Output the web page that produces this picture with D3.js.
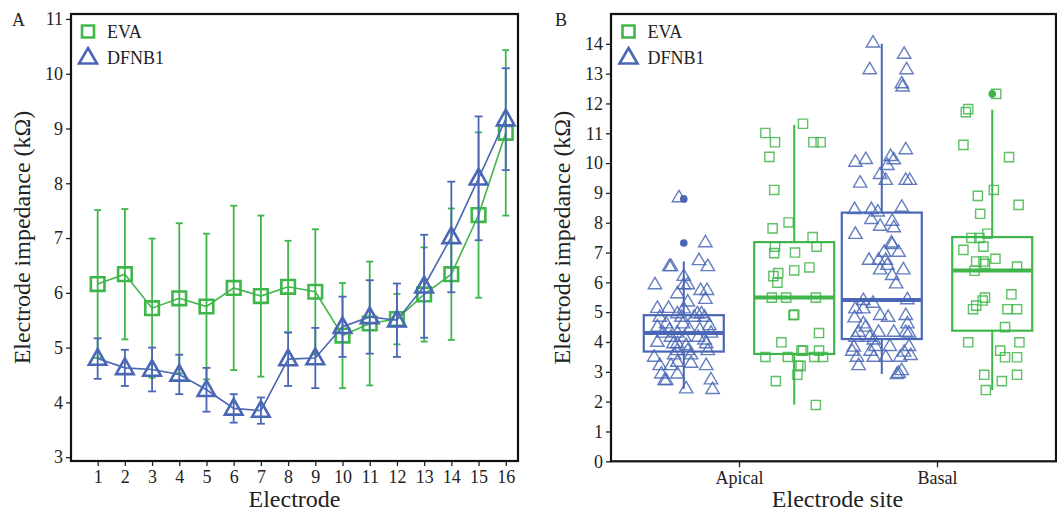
<!DOCTYPE html>
<html><head><meta charset="utf-8">
<script src="https://cdn.jsdelivr.net/npm/d3@7"></script>
<style>body{margin:0;background:#fff}svg{display:block}text{font-family:"Liberation Serif","DejaVu Serif",serif;fill:#222}</style>
</head><body><svg id="c" width="1057" height="512"></svg>
<script>
// ---------- Panel A data ----------
const electrodes = [1,2,3,4,5,6,7,8,9,10,11,12,13,14,15,16];
const evaMean  = [6.16,6.34,5.72,5.90,5.75,6.09,5.94,6.11,6.02,5.22,5.44,5.52,5.97,6.34,7.42,8.92];
const evaSD    = [1.35,1.19,1.27,1.37,1.33,1.50,1.47,0.84,1.14,0.96,1.13,0.46,0.86,1.20,1.51,1.51];
const dfnbMean = [4.80,4.63,4.60,4.51,4.23,3.89,3.85,4.79,4.81,5.38,5.56,5.50,6.12,7.02,8.09,9.17];
const dfnbSD   = [0.37,0.33,0.40,0.36,0.40,0.26,0.24,0.49,0.55,0.55,0.67,0.67,0.94,1.01,1.13,0.93];
const yTicksA = [3,4,5,6,7,8,9,10,11];

// ---------- Panel B data ----------
const sites = ["Apical","Basal"];
const groups = ["DFNB1","EVA"];
const yTicksB = [0,1,2,3,4,5,6,7,8,9,10,11,12,13,14];
// box stats: [whiskerLow, q1, median, q3, whiskerHigh]
const boxApicalDFNB1 = [2.43,3.68,4.30,4.90,6.70];
const boxApicalEVA   = [1.90,3.60,5.49,7.35,11.28];
const boxBasalDFNB1  = [2.93,4.10,5.41,8.34,14.00];
const boxBasalEVA    = [2.39,4.38,6.40,7.52,11.79];
const outApicalDFNB1 = [8.80,7.32];
const outApicalEVA   = [];
const outBasalDFNB1  = [];
const outBasalEVA    = [12.32];
// points: [jitter (fraction of box width), value]
const ptsApicalDFNB1 = [[-0.06,8.86],[0.27,7.35],[0.19,6.75],[0.30,6.55],[-0.18,6.55],[-0.16,6.55],[0,6.22],[-0.36,5.94],[0,5.94],[0.05,5.94],[0.21,5.75],[0.29,5.75],[-0.08,5.64],[0.27,5.45],[0.05,5.36],[-0.33,5.15],[-0.19,5.15],[0,5.13],[-0.08,4.97],[0.17,4.97],[0.22,4.97],[-0.30,4.85],[-0.03,4.85],[0.13,4.85],[0.26,4.85],[-0.22,4.63],[-0.01,4.63],[0.32,4.57],[-0.33,4.52],[-0.18,4.41],[0.07,4.43],[0.20,4.43],[-0.26,4.32],[-0.08,4.32],[0.34,4.32],[-0.16,4.18],[0.01,4.18],[0.18,4.18],[0.26,4.09],[-0.33,4.01],[-0.13,3.96],[-0.08,3.96],[0.03,3.90],[0.28,3.96],[-0.08,3.73],[0.05,3.73],[0.30,3.73],[-0.12,3.59],[0.09,3.59],[-0.37,3.51],[-0.08,3.34],[-0.30,3.23],[-0.16,3.23],[0.09,3.31],[0.28,3.23],[-0.28,2.95],[-0.08,2.95],[-0.24,2.73],[-0.22,2.73],[0.34,2.75],[0.03,2.45],[0.36,2.43]];
const ptsApicalEVA = [[0.11,11.32],[-0.36,11.01],[-0.24,10.70],[0.24,10.70],[0.33,10.70],[-0.31,10.21],[-0.25,9.10],[-0.07,8.01],[-0.27,7.81],[0.23,7.52],[-0.24,7.20],[0.28,7.20],[-0.25,6.98],[0.01,7.00],[0.19,6.50],[0,6.40],[-0.20,6.31],[-0.26,6.21],[-0.21,5.99],[-0.28,5.49],[-0.10,5.49],[0.27,5.49],[-0.01,4.90],[0,4.92],[0.31,4.30],[-0.16,3.99],[0.11,3.71],[0.09,3.71],[0.31,3.71],[-0.36,3.50],[-0.08,3.50],[0.25,3.50],[0.36,3.50],[0.08,3.20],[0.05,3.20],[0.04,2.90],[-0.23,2.69],[0.27,1.89]];
const ptsBasalDFNB1 = [[-0.11,14.05],[0.28,13.67],[-0.15,13.15],[0.31,13.15],[0.25,12.68],[0.26,12.57],[0.30,10.47],[-0.33,10.05],[-0.20,10.14],[0.11,10.24],[0.15,10.13],[0.07,9.94],[-0.02,9.64],[0.05,9.44],[0.30,9.44],[0.35,9.44],[-0.27,9.35],[-0.34,8.46],[-0.13,8.46],[-0.05,8.38],[0.25,8.54],[-0.13,8.13],[0.13,8.07],[-0.02,7.90],[-0.33,7.63],[0.15,7.85],[0.12,7.34],[0.13,7.29],[0.03,7.03],[0.21,7.03],[-0.16,6.76],[-0.04,6.76],[0.05,6.76],[0.07,6.59],[-0.02,6.44],[0.27,6.44],[0.13,6.25],[0.18,5.97],[-0.23,5.41],[0.32,5.44],[-0.11,5.32],[-0.33,5.13],[-0.23,5.13],[-0.02,4.91],[0.08,4.85],[0.30,4.91],[-0.34,4.83],[-0.23,4.63],[0.32,4.63],[-0.20,4.52],[-0.29,4.35],[-0.04,4.35],[0.15,4.35],[0.30,4.35],[0.34,4.32],[-0.33,4.18],[-0.15,4.18],[-0.10,4.09],[-0.35,3.85],[-0.08,3.87],[0.10,3.87],[0.34,3.87],[-0.37,3.71],[-0.14,3.71],[0.28,3.68],[0.36,3.57],[-0.31,3.51],[-0.10,3.51],[0.05,3.51],[0.23,3.51],[-0.29,3.23],[0.25,3.06],[0.19,2.93],[0.21,2.97]];
const ptsBasalEVA = [[0.05,12.32],[-0.30,11.81],[-0.33,11.71],[-0.36,10.61],[0.21,10.20],[0.02,9.10],[-0.18,8.90],[0.33,8.60],[-0.15,8.30],[-0.06,7.63],[-0.26,7.49],[-0.16,7.49],[-0.36,7.09],[-0.11,7.20],[0.04,6.79],[-0.20,6.70],[-0.11,6.70],[-0.09,6.62],[0.31,6.53],[-0.22,6.39],[-0.09,5.49],[-0.12,5.39],[0.24,5.60],[-0.20,5.22],[-0.24,5.10],[0.19,5.10],[0.31,5.10],[0.16,4.50],[-0.30,3.99],[0.34,3.99],[0.10,3.71],[0.16,3.49],[0.31,3.49],[-0.10,2.90],[0.31,2.90],[0.12,2.69],[-0.08,2.39]];

const GREEN = "#3fb64a", BLUE = "#4a67b6";
const TICK_FS = 18, TITLE_FS = 24, LEG_FS = 18;
const svg = d3.select("#c");

function styleAxis(g){
  g.select(".domain").remove();
  g.selectAll("line").attr("stroke","#222").attr("stroke-width",1.3);
  g.selectAll("text").attr("font-size",TICK_FS).attr("fill","#222");
}

// ================= Panel A =================
const A = {l:71, r:518, t:14, b:461};
const xA = d3.scaleLinear().domain([0.02,16.45]).range([A.l,A.r]);
const yA = d3.scaleLinear().domain([2.93,11.09]).range([A.b,A.t]);
const gA = svg.append("g");

gA.append("g").attr("transform",`translate(${A.l},0)`)
  .call(d3.axisLeft(yA).tickValues(yTicksA).tickSize(5).tickPadding(3).tickFormat(d3.format("d")))
  .call(styleAxis);
gA.append("g").attr("transform",`translate(0,${A.b})`)
  .call(d3.axisBottom(xA).tickValues(electrodes).tickSize(5).tickPadding(4).tickFormat(d3.format("d")))
  .call(styleAxis);
gA.append("rect").attr("x",A.l).attr("y",A.t).attr("width",A.r-A.l).attr("height",A.b-A.t)
  .attr("fill","none").attr("stroke","#111").attr("stroke-width",2.2);

function seriesA(means, sds, color, cap, shape){
  const d = electrodes.map((e,i)=>({x:e, m:means[i], s:sds[i]}));
  const g = gA.append("g");
  g.append("path").datum(d).attr("fill","none").attr("stroke",color).attr("stroke-width",1.6)
    .attr("d",d3.line().x(p=>xA(p.x)).y(p=>yA(p.m)));
  const eb = g.selectAll(".eb").data(d).enter().append("g").attr("stroke",color).attr("stroke-width",1.8);
  eb.append("line").attr("x1",p=>xA(p.x)).attr("x2",p=>xA(p.x)).attr("y1",p=>yA(p.m-p.s)).attr("y2",p=>yA(p.m+p.s));
  eb.append("line").attr("x1",p=>xA(p.x)-cap).attr("x2",p=>xA(p.x)+cap).attr("y1",p=>yA(p.m+p.s)).attr("y2",p=>yA(p.m+p.s));
  eb.append("line").attr("x1",p=>xA(p.x)-cap).attr("x2",p=>xA(p.x)+cap).attr("y1",p=>yA(p.m-p.s)).attr("y2",p=>yA(p.m-p.s));
  g.selectAll(".mk").data(d).enter().append("path")
    .attr("transform",p=>`translate(${xA(p.x)},${yA(p.m)})`)
    .attr("d",shape).attr("fill","none").attr("stroke",color).attr("stroke-width",2.6);
}
const sqA = "M-6.8,-6.8H6.8V6.8H-6.8Z";
const triA = "M0,-9.5L8.8,6.2H-8.8Z";
seriesA(evaMean, evaSD, GREEN, 3.5, sqA);
seriesA(dfnbMean, dfnbSD, BLUE, 4, triA);

function legend(g, x0){
  g.append("path").attr("transform",`translate(${x0},31.5)`).attr("d","M-6,-6H6V6H-6Z")
    .attr("fill","none").attr("stroke",GREEN).attr("stroke-width",2.6);
  g.append("path").attr("transform",`translate(${x0},57)`).attr("d","M0,-9L9,6.5H-9Z")
    .attr("fill","none").attr("stroke",BLUE).attr("stroke-width",2.6);
  g.append("text").attr("x",x0+19).attr("y",38).attr("font-size",LEG_FS).text("EVA");
  g.append("text").attr("x",x0+19).attr("y",63.5).attr("font-size",LEG_FS).text("DFNB1");
}
legend(gA, 88);
gA.append("text").attr("x",12).attr("y",25.5).attr("font-size",18).text("A");
gA.append("text").attr("x",(A.l+A.r)/2).attr("y",507).attr("text-anchor","middle").attr("font-size",TITLE_FS).text("Electrode");
gA.append("text").attr("transform",`translate(29.5,${(A.t+A.b)/2}) rotate(-90)`).attr("text-anchor","middle")
  .attr("font-size",TITLE_FS).text("Electrode impedance (kΩ)");

// ================= Panel B =================
const B = {l:611, r:1056, t:14, b:461.3};
const xB = d3.scalePoint().domain(sites).range([739,937]);
const xG = d3.scaleBand().domain(groups).range([-99.4,99.4]).paddingInner(0.2).paddingOuter(0);
const boxW = 80;
const yB = d3.scaleLinear().domain([0,15]).range([B.b,B.t]);
const gB = svg.append("g");

gB.append("g").attr("transform",`translate(${B.l},0)`)
  .call(d3.axisLeft(yB).tickValues(yTicksB).tickSize(5).tickPadding(3).tickFormat(d3.format("d")))
  .call(styleAxis);
gB.append("g").attr("transform",`translate(0,${B.b})`)
  .call(d3.axisBottom(xB).tickSize(6).tickPadding(4))
  .call(styleAxis);
gB.append("rect").attr("x",B.l).attr("y",B.t).attr("width",B.r-B.l).attr("height",B.b-B.t)
  .attr("fill","none").attr("stroke","#111").attr("stroke-width",2.2);

const groupData = [
  {site:"Apical", grp:"DFNB1", box:boxApicalDFNB1, out:outApicalDFNB1, pts:ptsApicalDFNB1},
  {site:"Apical", grp:"EVA",   box:boxApicalEVA,   out:outApicalEVA,   pts:ptsApicalEVA},
  {site:"Basal",  grp:"DFNB1", box:boxBasalDFNB1,  out:outBasalDFNB1,  pts:ptsBasalDFNB1},
  {site:"Basal",  grp:"EVA",   box:boxBasalEVA,    out:outBasalEVA,    pts:ptsBasalEVA}
];
const sqB = "M-4.6,-4.6H4.6V4.6H-4.6Z";
const triB = "M0,-6.8L6.7,4.6H-6.7Z";
groupData.forEach(G=>{
  const cx = xB(G.site) + xG(G.grp) + xG.bandwidth()/2;
  const color = G.grp==="EVA" ? GREEN : BLUE;
  const [wl,q1,md,q3,wh] = G.box;
  const g = gB.append("g").attr("stroke",color).attr("fill","none");
  g.append("line").attr("x1",cx).attr("x2",cx).attr("y1",yB(q3)).attr("y2",yB(wh)).attr("stroke-width",2);
  g.append("line").attr("x1",cx).attr("x2",cx).attr("y1",yB(q1)).attr("y2",yB(wl)).attr("stroke-width",2);
  g.append("rect").attr("x",cx-boxW/2).attr("width",boxW).attr("y",yB(q3)).attr("height",yB(q1)-yB(q3)).attr("stroke-width",2.2);
  g.append("line").attr("x1",cx-boxW/2).attr("x2",cx+boxW/2).attr("y1",yB(md)).attr("y2",yB(md)).attr("stroke-width",4);
  g.selectAll(".o").data(G.out).enter().append("circle").attr("cx",cx).attr("cy",d=>yB(d)).attr("r",3.8)
    .attr("fill",color).attr("stroke","none");
  g.selectAll(".p").data(G.pts).enter().append("path")
    .attr("transform",d=>`translate(${cx + d[0]*boxW},${yB(d[1])})`)
    .attr("d", G.grp==="EVA" ? sqB : triB)
    .attr("stroke-width",1.4).attr("stroke-opacity",0.85);
});

legend(gB, 628.5);
gB.append("text").attr("x",555).attr("y",25.5).attr("font-size",18).text("B");
gB.append("text").attr("x",(B.l+B.r)/2+4).attr("y",507).attr("text-anchor","middle").attr("font-size",TITLE_FS).text("Electrode site");
gB.append("text").attr("transform",`translate(569.5,${(B.t+B.b)/2}) rotate(-90)`).attr("text-anchor","middle")
  .attr("font-size",TITLE_FS).text("Electrode impedance (kΩ)");
</script></body></html>
